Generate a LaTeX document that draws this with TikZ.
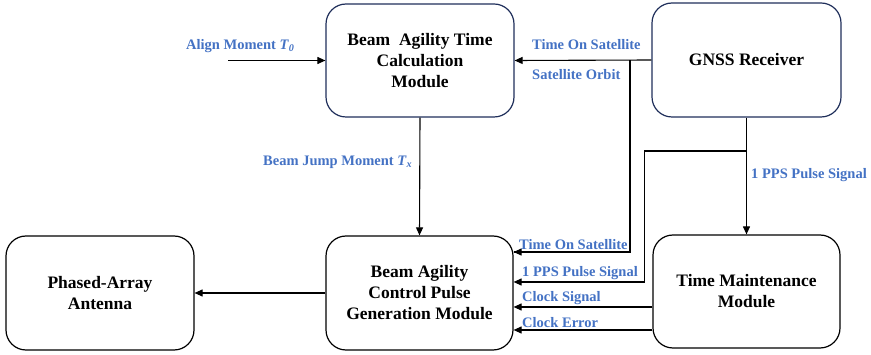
\documentclass[tikz,border=0pt]{standalone}
\usepackage{fontspec}
\setmainfont{Liberation Serif}
\usetikzlibrary{arrows.meta}
\definecolor{lblue}{RGB}{68,114,196}
\definecolor{navy}{RGB}{31,46,90}
\begin{document}
\begin{tikzpicture}[x=1pt,y=-1pt,
  box/.style={draw, rounded corners=20pt, line width=1.2pt, align=center,
    font=\fontsize{17.5}{21}\selectfont\bfseries, inner sep=0pt},
  topbox/.style={box, draw=navy},
  lbl/.style={text=lblue, font=\fontsize{14.5}{17}\selectfont\bfseries, inner sep=0pt},
  conn/.style={line width=1.1pt, -{Triangle[length=8pt,width=7pt]}},
  plain/.style={line width=1.1pt}]
\useasboundingbox (0,0) rectangle (871,355);
\node[topbox, minimum width=188pt, minimum height=113pt] (calc) at (420,60.5)
  {Beam~ Agility Time\\Calculation\\Module};
\node[topbox, minimum width=189pt, minimum height=114pt] (gnss) at (746.5,60) {GNSS Receiver};
\node[box, minimum width=187pt, minimum height=114pt] (bac) at (419.5,293)
  {Beam Agility\\Control Pulse\\Generation Module};
\node[box, minimum width=188pt, minimum height=114pt] (pa) at (100,293)
  {Phased-Array\\Antenna};
\node[box, minimum width=187pt, minimum height=113pt] (tm) at (746.5,291.5)
  {Time Maintenance\\Module};
% coordinates
\coordinate (alignstart) at (228,60.5);
\coordinate (j1) at (630,60.5);
\coordinate (j2) at (746.5,151);
\coordinate (tos) at ([yshift=41pt]bac.east);
\coordinate (pps) at ([yshift=11pt]bac.east);
\coordinate (cs) at ([yshift=-14pt]bac.east);
\coordinate (ce) at ([yshift=-37pt]bac.east);
% connectors
\draw[conn] (alignstart) -- (calc.west);
\draw[conn] (gnss.west) -- (calc.east);
\draw[plain] (j1) |- (tos);
\draw[conn] (j1 |- tos) -- (tos);
\draw[conn] (calc.south) -- (bac.north);
\draw[conn] (bac.west) -- (pa.east);
\draw[conn] (gnss.south) -- (tm.north);
\draw[conn] (j2) -- ++(-102,0) |- (pps);
\draw[conn] (cs -| tm.west) -- (cs);
\draw[conn] (ce -| tm.west) -- (ce);
% labels
\node[lbl, anchor=west] (l1) at (186,46) {Align Moment \textit{T}\textsubscript{\textit{0}}};
\node[lbl, anchor=west] (l2) at (532,45) {Time On Satellite};
\node[lbl, anchor=west] (l3) at (532,75) {Satellite Orbit};
\node[lbl, anchor=west] (l4) at (263,162) {Beam Jump Moment \textit{T}\textsubscript{\textit{x}}};
\node[lbl, anchor=west] (l5) at (751,175) {1 PPS Pulse Signal};
\node[lbl, anchor=west] (l6) at (519,245) {Time On Satellite};
\node[lbl, anchor=west] (l7) at (522,273) {1 PPS Pulse Signal};
\node[lbl, anchor=west] (l8) at (522,298) {Clock Signal};
\node[lbl, anchor=west] (l9) at (522,323) {Clock Error};
\end{tikzpicture}
\end{document}
